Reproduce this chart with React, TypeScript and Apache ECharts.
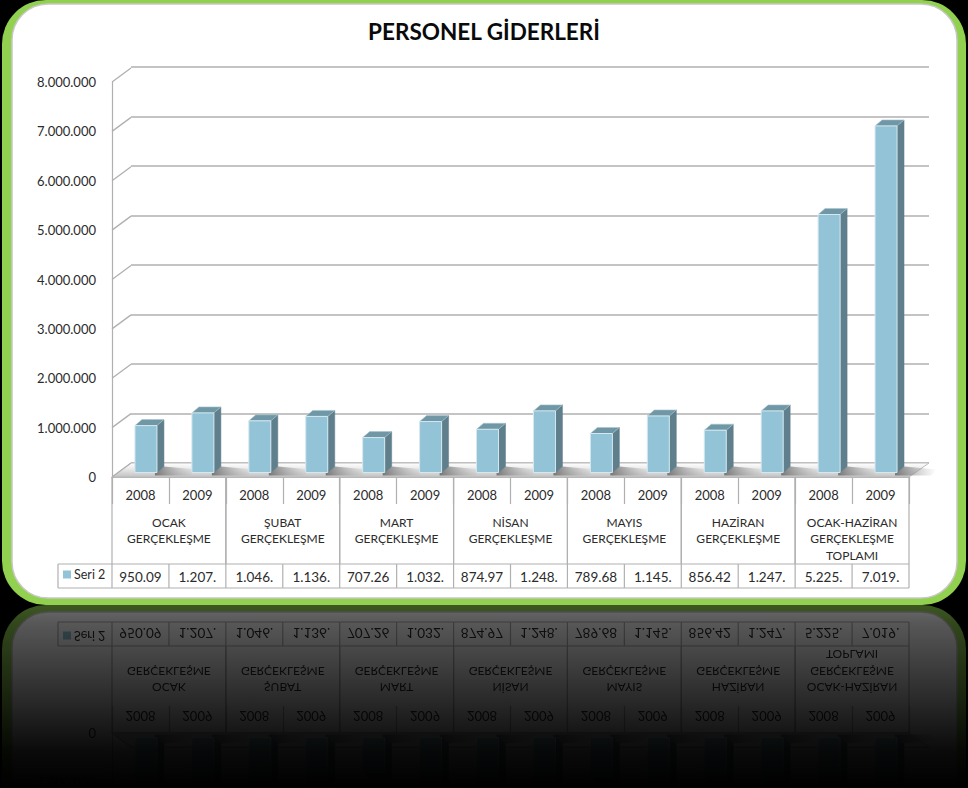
import React, { useEffect, useRef } from "react";
import * as echarts from "echarts";

const TITLE = "PERSONEL GİDERLERİ";
const SERIES_NAME = "Seri 2";
const FONT = "Lato, Carlito, 'Open Sans', sans-serif";
const years = ["2008", "2009", "2008", "2009", "2008", "2009", "2008", "2009", "2008", "2009", "2008", "2009", "2008", "2009"];
const values = [950090, 1207000, 1046000, 1136000, 707260, 1032000, 874970, 1248000, 789680, 1145000, 856420, 1247000, 5225000, 7019000];
const tableLabels = ["950.09", "1.207.", "1.046.", "1.136.", "707.26", "1.032.", "874.97", "1.248.", "789.68", "1.145.", "856.42", "1.247.", "5.225.", "7.019."];
const groups = [
  "OCAK\nGERÇEKLEŞME",
  "ŞUBAT\nGERÇEKLEŞME",
  "MART\nGERÇEKLEŞME",
  "NİSAN\nGERÇEKLEŞME",
  "MAYIS\nGERÇEKLEŞME",
  "HAZİRAN\nGERÇEKLEŞME",
  "OCAK-HAZİRAN\nGERÇEKLEŞME\nTOPLAMI",
];
const tickValues = [0, 1000000, 2000000, 3000000, 4000000, 5000000, 6000000, 7000000, 8000000];

const LINE = "#b0b0b0";
const TEXT = "#2b2b2b";

function buildOption(mirror: boolean): any {
  const diag = { dx: 19, dy: -14 };
  const barOff = { dx: 5.5, dy: -4.5 };
  const barW = 22;
  const depth = { dx: 7, dy: -6 };
  const axisY = 477;
  const rowTop = 564;
  const rowBottom = 588;
  const lineStyle = { stroke: LINE, lineWidth: 1.2, fill: "none" };

  return {
    animation: false,
    backgroundColor: "#000000",
    textStyle: { fontFamily: FONT },
    title: {
      show: !mirror,
      text: TITLE,
      left: "center",
      top: 15,
      textStyle: { fontFamily: FONT, fontSize: 22.5, fontWeight: "bold", color: "#0a0a0a" },
    },
    legend: {
      data: [{ name: SERIES_NAME, icon: "rect", itemStyle: { color: "#93c3d6" } }],
      left: 63,
      top: 568,
      itemWidth: 8,
      itemHeight: 8,
      itemGap: 3,
      padding: 0,
      textStyle: { fontFamily: FONT, fontSize: 12.5, color: TEXT, padding: [0, 0, 0, -2] },
      selectedMode: false,
    },
    graphic: {
      elements: [
        { type: "rect", z: -20, shape: { x: 2, y: 0, width: 964, height: 605, r: 44 }, style: { fill: "#92d050" } },
        {
          type: "rect",
          z: -19,
          shape: { x: 12, y: 4, width: 945, height: 594, r: 36 },
          style: { fill: "#ffffff", stroke: "#c8c8c8", lineWidth: 1.5 },
        },
      ],
    },
    grid: [
      { left: 112, top: 82, width: 797, height: 395 },
      { left: 131, top: 67, width: 798, height: 396 },
    ],
    xAxis: [
      {
        gridIndex: 0,
        type: "category",
        data: years,
        axisLine: { show: true, lineStyle: { color: LINE, width: 1.2 } },
        axisTick: { show: true, length: 27, lineStyle: { color: LINE, width: 1.2 } },
        axisLabel: { interval: 0, margin: 11, fontFamily: FONT, fontSize: 13, color: TEXT },
      },
      { gridIndex: 1, type: "category", data: years, show: false },
    ],
    yAxis: [
      {
        gridIndex: 0,
        type: "value",
        min: 0,
        max: 8000000,
        interval: 1000000,
        axisLine: { show: true, lineStyle: { color: LINE, width: 1.2 } },
        axisTick: { show: false },
        splitLine: { show: false },
        axisLabel: {
          margin: 16,
          fontFamily: FONT,
          fontSize: 13,
          color: TEXT,
          formatter: (v: number) =>
            mirror && v > 1000000 ? "" : String(v).replace(/\B(?=(\d{3})+$)/g, "."),
        },
      },
      {
        gridIndex: 1,
        type: "value",
        min: 0,
        max: 8000000,
        interval: 1000000,
        axisLine: { show: false },
        axisTick: { show: false },
        axisLabel: { show: false },
        splitLine: { show: true, lineStyle: { color: LINE, width: 1.6 } },
      },
    ],
    series: [
      {
        type: "custom",
        name: "floor",
        silent: true,
        z: 1,
        xAxisIndex: 0,
        yAxisIndex: 0,
        data: [0],
        renderItem: (p: any) => {
          const x0 = p.coordSys.x;
          const x1 = x0 + p.coordSys.width;
          const y = p.coordSys.y + p.coordSys.height;
          return {
            type: "polygon",
            shape: {
              points: [
                [x0, y],
                [x1, y],
                [x1 + diag.dx + 1, y + diag.dy],
                [x0 + diag.dx, y + diag.dy],
              ],
            },
            style: {
              fill: {
                type: "linear",
                x: 0,
                y: 0,
                x2: 0,
                y2: 1,
                colorStops: [
                  { offset: 0, color: "#ffffff" },
                  { offset: 0.35, color: "#eeeeee" },
                  { offset: 1, color: "#c2c2c2" },
                ],
              },
              stroke: "#bcbcbc",
              lineWidth: 1,
            },
          };
        },
      },
      {
        type: "custom",
        name: "diagonals",
        silent: true,
        z: 2,
        xAxisIndex: 0,
        yAxisIndex: 0,
        data: tickValues.map((v) => [0, v]),
        renderItem: (p: any, api: any) => {
          const y = api.coord([0, api.value(1)])[1];
          const x = p.coordSys.x;
          return {
            type: "line",
            shape: { x1: x, y1: y, x2: x + diag.dx, y2: y + diag.dy },
            style: { stroke: LINE, lineWidth: 1.3 },
          };
        },
      },
      {
        type: "custom",
        name: SERIES_NAME,
        z: 5,
        xAxisIndex: 0,
        yAxisIndex: 0,
        itemStyle: { color: "#93c3d6" },
        data: values.map((v, i) => [i, v]),
        encode: { x: 0, y: 1 },
        renderItem: (_p: any, api: any) => {
          const top = api.coord([api.value(0), api.value(1)]);
          const base = api.coord([api.value(0), 0]);
          const l = top[0] + barOff.dx - barW / 2;
          const r = l + barW;
          const t = top[1] + barOff.dy;
          const b = base[1] + barOff.dy;
          const s = 34;
          return {
            type: "group",
            children: [
              {
                type: "polygon",
                shape: { points: [[r - 2, b + 3], [r + s, b + 3], [r + s + 6, b - 3], [r + depth.dx, b + depth.dy], [r - 2, b - 1]] },
                style: {
                  fill: {
                    type: "linear",
                    x: 0,
                    y: 0,
                    x2: 1,
                    y2: 0,
                    colorStops: [
                      { offset: 0, color: "rgba(110,110,110,0.9)" },
                      { offset: 1, color: "rgba(170,170,170,0)" },
                    ],
                  },
                },
              },
              {
                type: "polygon",
                shape: { points: [[r, t], [r + depth.dx, t + depth.dy], [r + depth.dx, b + depth.dy], [r, b]] },
                style: { fill: "#5f7f8c", stroke: "#5f7f8c", lineWidth: 0.5 },
              },
              {
                type: "polygon",
                shape: { points: [[l, t], [l + depth.dx, t + depth.dy], [r + depth.dx, t + depth.dy], [r, t]] },
                style: { fill: "#7097a5", stroke: "#a8c4ce", lineWidth: 0.6 },
              },
              {
                type: "rect",
                shape: { x: l, y: t, width: barW, height: b - t },
                style: { fill: "#93c3d6", stroke: "#d5e8ef", lineWidth: 1 },
              },
            ],
          };
        },
      },
      {
        type: "custom",
        name: "groups",
        silent: true,
        z: 3,
        xAxisIndex: 0,
        yAxisIndex: 0,
        data: groups.map((g, i) => [i * 2, 0]),
        renderItem: (_p: any, api: any) => {
          const i = api.value(0);
          const band = api.size([1, 0])[0];
          const left = api.coord([i, 0])[0] - band / 2;
          const right = left + band * 2;
          return {
            type: "group",
            children: [
              { type: "line", shape: { x1: left, y1: axisY, x2: left, y2: rowTop }, style: lineStyle },
              { type: "line", shape: { x1: right, y1: axisY, x2: right, y2: rowTop }, style: lineStyle },
              {
                type: "text",
                style: {
                  text: groups[i / 2],
                  x: (left + right) / 2,
                  y: 514,
                  align: "center",
                  verticalAlign: "top",
                  fontFamily: FONT,
                  fontSize: 12,
                  lineHeight: 16.5,
                  fill: TEXT,
                },
              },
            ],
          };
        },
      },
      {
        type: "custom",
        name: "table",
        silent: true,
        z: 3,
        xAxisIndex: 0,
        yAxisIndex: 0,
        data: tableLabels.map((_t, i) => [i, 0]),
        renderItem: (_p: any, api: any) => {
          const i = api.value(0);
          const band = api.size([1, 0])[0];
          const cx = api.coord([i, 0])[0];
          const left = cx - band / 2;
          const right = cx + band / 2;
          const kids: any[] = [
            { type: "line", shape: { x1: left, y1: rowTop, x2: right, y2: rowTop }, style: lineStyle },
            { type: "line", shape: { x1: left, y1: rowBottom, x2: right, y2: rowBottom }, style: lineStyle },
            { type: "line", shape: { x1: right, y1: rowTop, x2: right, y2: rowBottom }, style: lineStyle },
            {
              type: "text",
              style: {
                text: tableLabels[i],
                x: cx,
                y: (rowTop + rowBottom) / 2 + 1,
                align: "center",
                verticalAlign: "middle",
                fontFamily: FONT,
                fontSize: 13.5,
                fill: TEXT,
              },
            },
          ];
          if (i === 0) {
            const lx = left - 54;
            kids.push(
              { type: "line", shape: { x1: lx, y1: rowTop, x2: left, y2: rowTop }, style: lineStyle },
              { type: "line", shape: { x1: lx, y1: rowBottom, x2: left, y2: rowBottom }, style: lineStyle },
              { type: "line", shape: { x1: lx, y1: rowTop, x2: lx, y2: rowBottom }, style: lineStyle },
              { type: "line", shape: { x1: left, y1: rowTop, x2: left, y2: rowBottom }, style: lineStyle }
            );
          }
          return { type: "group", children: kids };
        },
      },
    ],
  };
}

export default function App() {
  const mainRef = useRef<HTMLDivElement>(null);
  const mirrorRef = useRef<HTMLDivElement>(null);

  useEffect(() => {
    document.body.style.margin = "0";
    document.body.style.background = "#000";
    const a = echarts.init(mainRef.current!, undefined, { renderer: "svg" });
    const b = echarts.init(mirrorRef.current!, undefined, { renderer: "svg" });
    a.setOption(buildOption(false));
    b.setOption(buildOption(true));
    return () => {
      a.dispose();
      b.dispose();
    };
  }, []);

  return (
    <div style={{ position: "relative", width: 968, height: 788, overflow: "hidden", background: "#000" }}>
      <div
        ref={mirrorRef}
        style={{
          position: "absolute",
          left: 0,
          top: 605,
          width: 968,
          height: 605,
          transform: "scaleY(-1)",
          filter: "blur(0.7px)",
        }}
      />
      <div
        style={{
          position: "absolute",
          left: 0,
          top: 605,
          width: 968,
          height: 183,
          background:
            "linear-gradient(to bottom, rgba(0,0,0,0.58) 0%, rgba(0,0,0,0.66) 10%, rgba(0,0,0,0.84) 52%, rgba(0,0,0,0.96) 80%, rgba(0,0,0,1) 100%)",
        }}
      />
      <div ref={mainRef} style={{ position: "absolute", left: 0, top: 0, width: 968, height: 605 }} />
    </div>
  );
}
